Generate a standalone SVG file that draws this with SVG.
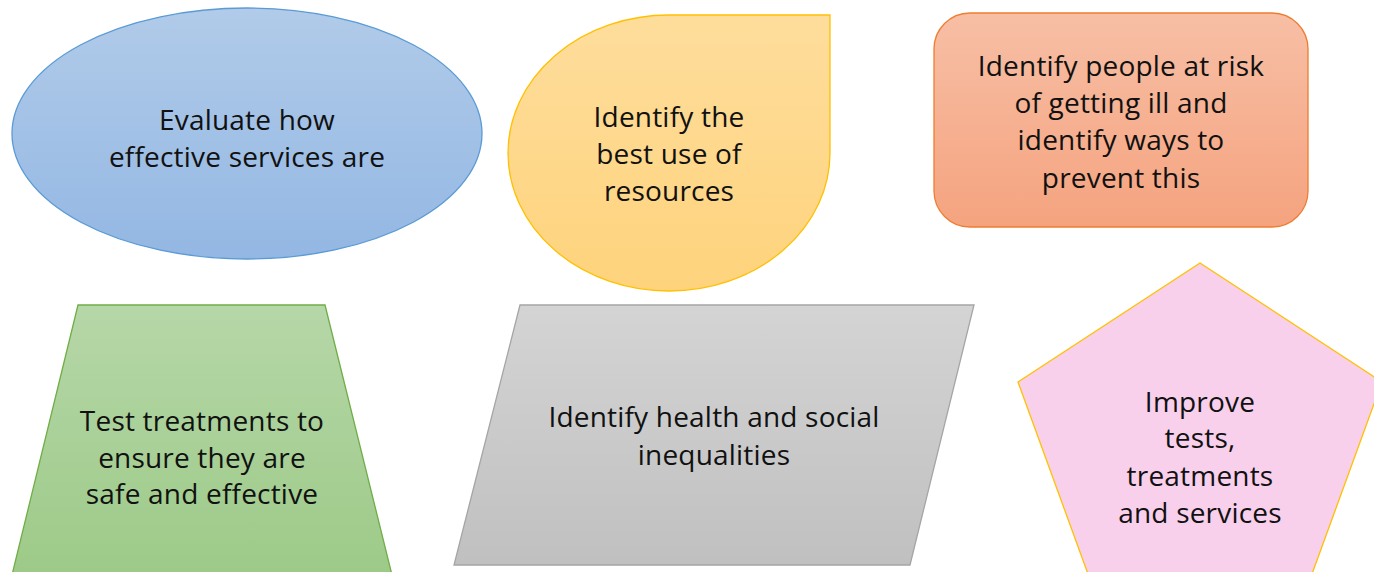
<svg xmlns="http://www.w3.org/2000/svg" width="1374" height="572" viewBox="0 0 1374 572">
  <defs>
    <linearGradient id="gBlue" x1="0" y1="0" x2="0" y2="1"><stop offset="0" stop-color="#b1cbe9"/><stop offset="1" stop-color="#93b7e3"/></linearGradient>
    <linearGradient id="gYellow" x1="0" y1="0" x2="0" y2="1"><stop offset="0" stop-color="#fedd9c"/><stop offset="1" stop-color="#fed37c"/></linearGradient>
    <linearGradient id="gOrange" x1="0" y1="0" x2="0" y2="1"><stop offset="0" stop-color="#f7bfa5"/><stop offset="1" stop-color="#f5a37f"/></linearGradient>
    <linearGradient id="gGreen" x1="0" y1="0" x2="0" y2="1"><stop offset="0" stop-color="#b6d7a8"/><stop offset="1" stop-color="#9dca88"/></linearGradient>
    <linearGradient id="gGray" x1="0" y1="0" x2="0" y2="1"><stop offset="0" stop-color="#d4d4d4"/><stop offset="1" stop-color="#c0c0c0"/></linearGradient>
  </defs>
  <style>
    text { font-family: "Open Sans", "Noto Sans", "Liberation Sans", sans-serif; font-size: 28px; letter-spacing: 0.2px; fill: #111; text-anchor: middle; }
    .s { stroke-width: 1.3; }
  </style>
  <rect width="1374" height="572" fill="#ffffff"/>
  <g id="connectors"></g>
  <g id="node-evaluate">
    <ellipse class="s" cx="247" cy="133.5" rx="235" ry="125.5" fill="url(#gBlue)" stroke="#5b9bd5"/>
    <text x="247" y="130">Evaluate how</text>
    <text x="247" y="167">effective services are</text>
  </g>
  <g id="node-resources">
    <path class="s" d="M669,15 A161,138 0 1,0 830,153 L830,15 Z" fill="url(#gYellow)" stroke="#ffc000"/>
    <text x="669" y="127">Identify the</text>
    <text x="669" y="164">best use of</text>
    <text x="669" y="201">resources</text>
  </g>
  <g id="node-risk">
    <rect class="s" x="934" y="13" width="374" height="214" rx="36" ry="36" fill="url(#gOrange)" stroke="#ed7d31"/>
    <text x="1121" y="76">Identify people at risk</text>
    <text x="1121" y="113">of getting ill and</text>
    <text x="1121" y="150">identify ways to</text>
    <text x="1121" y="188">prevent this</text>
  </g>
  <g id="node-test">
    <path class="s" d="M78,305 L325,305 L392,575 L12,575 Z" fill="url(#gGreen)" stroke="#70ad47"/>
    <text x="202" y="431">Test treatments to</text>
    <text x="202" y="468">ensure they are</text>
    <text x="202" y="504">safe and effective</text>
  </g>
  <g id="node-inequalities">
    <path class="s" d="M520,305 L974,305 L910,565 L454,565 Z" fill="url(#gGray)" stroke="#a5a5a5"/>
    <text x="714" y="427">Identify health and social</text>
    <text x="714" y="465">inequalities</text>
  </g>
  <g id="node-improve">
    <path class="s" d="M1200,263 L1382,382 L1312,574 L1088,574 L1018,382 Z" fill="#f8d0ec" stroke="#ffc000"/>
    <text x="1200" y="412">Improve</text>
    <text x="1200" y="448">tests,</text>
    <text x="1200" y="486">treatments</text>
    <text x="1200" y="523">and services</text>
  </g>
</svg>
